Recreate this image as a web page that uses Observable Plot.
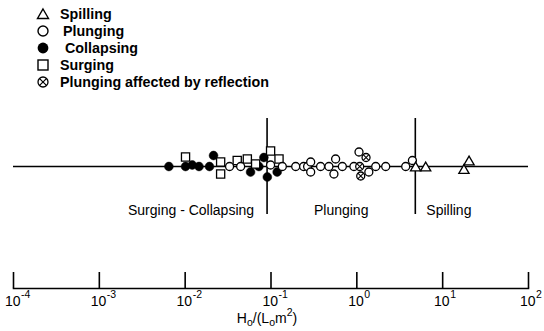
<!DOCTYPE html>
<html><head><meta charset="utf-8">
<script src="https://cdn.jsdelivr.net/npm/d3@7"></script>
<script src="https://cdn.jsdelivr.net/npm/@observablehq/plot@0.6"></script>
<style>
body{margin:0;background:#fff;}
#wrap{position:relative;width:544px;height:331px;font-family:"Liberation Sans",Arial,sans-serif;color:#000;}
#chart{position:absolute;left:0;top:0;}
.lg{position:absolute;left:0;height:16px;line-height:16px;font-weight:bold;font-size:14.3px;white-space:nowrap;}
.lg svg{position:absolute;left:36px;top:1px;}
.lg span{position:absolute;top:0;}
#xtitle{position:absolute;left:117px;width:300px;top:310px;text-align:center;font-size:14px;line-height:16px;white-space:nowrap;}
#xtitle sub{font-size:10.5px;vertical-align:-3px;line-height:0;}
#xtitle sup{font-size:10.5px;vertical-align:7px;line-height:0;}
</style></head><body>
<div id="wrap"><div id="chart"></div><div id="legend"></div><div id="xtitle"></div></div>
<script>
// ---- data ----
const legendLabels = ["Spilling", "Plunging", "Collapsing", "Surging", "Plunging affected by reflection"];
const legendKinds = ["triangle", "circle", "disc", "square", "otimes"];
const boundaries = [0.09, 4.8];
const regionLabels = ["Surging - Collapsing", "Plunging", "Spilling"];
const tickValues = [1e-4, 1e-3, 1e-2, 1e-1, 1, 10, 100];
const tickBase = "10";
const tickExponents = ["-4", "-3", "-2", "-1", "0", "1", "2"];
const axisTitleParts = ["H", "o", "/(L", "o", "m", "2", ")"];

const collapsingX = [0.00646, 0.0101, 0.0121, 0.0145, 0.0192, 0.0214, 0.0578, 0.0723, 0.0826, 0.118, 0.0906];
const collapsingLevel = [0, 0, 0.3, 0, 0, 2.2, -1.1, 0, 1.8, -1.1, -2.1];
const surgingX = [0.0101, 0.0259, 0.0259, 0.0404, 0.0530, 0.0662, 0.0989, 0.124];
const surgingLevel = [1.9, 0.9, -1.5, 1.2, 1.5, 0.5, 3.1, 1.5];
const plungingX = [0.0329, 0.0443, 0.0989, 0.1355, 0.194, 0.240, 0.267, 0.290, 0.290, 0.378, 0.473, 0.566, 0.541, 0.678, 0.925, 1.06, 1.38, 1.66, 2.17, 3.71, 4.44];
const plungingLevel = [0, 0, 0.3, 0, 0, 0, 0, 0.9, -1.1, 0, 0, 1.5, -1.5, 0, 0, 2.9, -1.1, 0, 0, 0, 1.2];
const reflectionX = [1.28, 1.08, 1.11];
const reflectionLevel = [1.8, 0, -1.9];
const spillingX = [4.84, 6.34, 20.3, 17.7];
const spillingLevel = [-0.3, -0.3, 0.9, -0.8];

const pts = (xs, ls) => xs.map((x, i) => ({x, level: ls[i]}));
const collapsing = pts(collapsingX, collapsingLevel);
const surging = pts(surgingX, surgingLevel);
const plunging = pts(plungingX, plungingLevel);
const reflection = pts(reflectionX, reflectionLevel);
const spilling = pts(spillingX, spillingLevel);

const yExt = 9.6;
const font = '"Liberation Sans", Arial, sans-serif';

const chart = Plot.plot({
  width: 544, height: 331,
  marginLeft: 13, marginRight: 16, marginTop: 100, marginBottom: 43,
  x: {type: "log", domain: [1e-4, 1e2], axis: null},
  y: {domain: [-yExt, yExt], range: [214, 118], axis: null},
  style: {fontFamily: font, background: "white", color: "black"},
  marks: [
    Plot.ruleY([0], {stroke: "black", strokeWidth: 1.3}),
    Plot.ruleX(boundaries, {x: d => d, y1: -yExt, y2: yExt, stroke: "black", strokeWidth: 1.6}),
    Plot.text([regionLabels[0]], {x: boundaries[0], y: -8.8, text: d => d, textAnchor: "end", dx: -13, fontSize: 14}),
    Plot.text([regionLabels[1]], {x: Math.sqrt(boundaries[0] * boundaries[1]), y: -8.8, text: d => d, fontSize: 14}),
    Plot.text([regionLabels[2]], {x: boundaries[1], y: -8.8, text: d => d, textAnchor: "start", dx: 11, fontSize: 14}),
    Plot.dot(collapsing, {x: "x", y: "level", r: 4.4, fill: "black", stroke: "black", strokeWidth: 0.5}),
    Plot.dot(surging, {x: "x", y: "level", symbol: "square", r: 4.6, fill: "white", stroke: "black", strokeWidth: 1.3}),
    Plot.dot(plunging, {x: "x", y: "level", r: 4, fill: "white", stroke: "black", strokeWidth: 1.3}),
    Plot.dot(reflection, {x: "x", y: "level", r: 4, fill: "white", stroke: "black", strokeWidth: 1.3}),
    Plot.dot(reflection, {x: "x", y: "level", symbol: "times", r: 2.7, stroke: "black", strokeWidth: 1.1}),
    Plot.dot(spilling, {x: "x", y: "level", symbol: "triangle", r: 3.8, fill: "white", stroke: "black", strokeWidth: 1.3}),
    Plot.frame({anchor: "bottom", stroke: "black", strokeWidth: 1.6}),
    Plot.axisX({anchor: "bottom", ticks: tickValues, tickSize: -16, tickFormat: () => "", strokeWidth: 1.6, label: null}),
    Plot.text(tickValues, {x: d => d, frameAnchor: "bottom", dy: 17, dx: 7, text: () => tickBase, textAnchor: "end", fontSize: 14}),
    Plot.text(tickValues, {x: d => d, frameAnchor: "bottom", dy: 9.5, dx: 7.5, text: (d, i) => tickExponents[i], textAnchor: "start", fontSize: 10.5})
  ]
});
document.getElementById("chart").appendChild(chart);

// ---- axis title (with real sub/superscripts) ----
const xt = document.getElementById("xtitle");
const p = axisTitleParts;
xt.innerHTML = p[0] + "<sub>" + p[1] + "</sub>" + p[2] + "<sub>" + p[3] + "</sub>" + p[4] + "<sup>" + p[5] + "</sup>" + p[6];

// ---- legend ----
const rowY = [14, 31, 48, 65, 82];
const textX = [60, 63, 65, 60, 60];
function sym(kind) {
  let s = '';
  if (kind === "triangle") s = '<polygon points="7,2 12.5,11.5 1.5,11.5" fill="white" stroke="black" stroke-width="1.4"/>';
  if (kind === "circle") s = '<circle cx="7" cy="7" r="5" fill="white" stroke="black" stroke-width="1.4"/>';
  if (kind === "disc") s = '<circle cx="7" cy="7" r="5.4" fill="black"/>';
  if (kind === "square") s = '<rect x="2" y="2" width="10" height="10" fill="white" stroke="black" stroke-width="1.4"/>';
  if (kind === "otimes") s = '<circle cx="7" cy="7" r="5" fill="white" stroke="black" stroke-width="1.3"/><path d="M3.6,3.6L10.4,10.4M10.4,3.6L3.6,10.4" stroke="black" stroke-width="1.2"/>';
  return '<svg width="14" height="14" viewBox="0 0 14 14">' + s + '</svg>';
}
const lg = document.getElementById("legend");
legendLabels.forEach((lab, i) => {
  const row = document.createElement("div");
  row.className = "lg";
  row.style.top = (rowY[i] - 8) + "px";
  row.innerHTML = sym(legendKinds[i]) + '<span style="left:' + textX[i] + 'px"></span>';
  row.querySelector("span").textContent = lab;
  lg.appendChild(row);
});
</script>
</body></html>
